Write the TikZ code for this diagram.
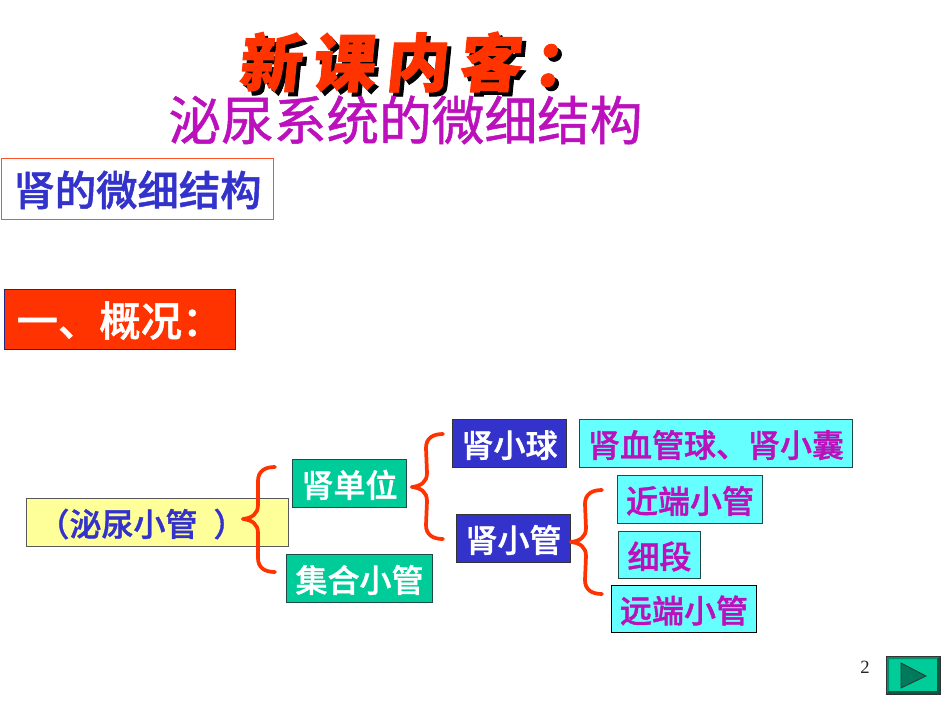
\documentclass[tikz,border=0pt]{standalone}
\usepackage{fontspec}
\usetikzlibrary{calc}
\newfontfamily\cjk{Noto Sans CJK SC}
\newfontfamily\cjkmed{Noto Sans CJK SC Medium}[FakeBold=1.2]
\newfontfamily\cjksub{Noto Sans CJK SC}[FakeBold=1]
\newfontfamily\cjkslant{Noto Sans CJK SC Black}[FakeSlant=0.1,FakeBold=1.5]
\setmainfont{Liberation Serif}
\definecolor{oxred}{HTML}{FF3300}
\definecolor{navy}{HTML}{3333CC}
\definecolor{mag}{HTML}{BB10BB}
\definecolor{teal}{HTML}{00CC99}
\definecolor{cyanbox}{HTML}{66FFFF}
\definecolor{yel}{HTML}{FFFF99}
\definecolor{edge}{HTML}{1F4A4A}
\tikzset{
  x=0.75pt,y=-0.75pt,
  box/.style={draw=edge,line width=0.8pt,inner sep=0pt,anchor=north west,align=center,text height=22.5pt,text depth=2pt,font=\cjkmed\fontsize{24pt}{26pt}\selectfont},
  headbox/.style={box,text height=28pt,text depth=3pt,font=\cjkmed\fontsize{31pt}{33pt}\selectfont},
  tealbox/.style={box,fill=teal,text=white},
  navybox/.style={box,fill=navy,text=white,draw=black!80},
  cyanb/.style={box,fill=cyanbox,text=mag},
  bracepath/.style={draw=oxred,line width=2.8pt,line cap=round,line join=round},
  wh/.style 2 args={minimum width=#1*0.75pt,minimum height=#2*0.75pt},
  titlechars/.style={font=\cjkslant\fontsize{47pt}{50pt}\selectfont,inner sep=0pt},
}
\newcommand{\titlerun}{新\hspace{8pt}课\hspace{8pt}内\hspace{8pt}客\hspace{8pt}：}
\newcommand{\bracedraw}[3]{% tip, top end, bottom end
  \draw[bracepath] (#1) .. controls ($(#1)+(9,-1)$) and ($(#1)+(15,-5)$) .. ($(#1)+(15,-14)$)
    -- ($(#2)+(-17,14)$) .. controls ($(#2)+(-17,4)$) and ($(#2)+(-10,0)$) .. (#2);
  \draw[bracepath] (#1) .. controls ($(#1)+(9,1)$) and ($(#1)+(15,5)$) .. ($(#1)+(15,14)$)
    -- ($(#3)+(-17,-14)$) .. controls ($(#3)+(-17,-4)$) and ($(#3)+(-10,0)$) .. (#3);
}
\begin{document}
\begin{tikzpicture}
\useasboundingbox (0,0) rectangle (950,713);
\fill[white] (0,0) rectangle (950,713);
% title
\node[titlechars,anchor=west] (title) at (238,64) {\rlap{\hspace{3pt}\raisebox{-3pt}{\color{black}\titlerun}}{\color{oxred}\titlerun}};
\node[inner sep=0pt,text=mag,font=\cjksub\fontsize{39.5pt}{42pt}\selectfont] (sub) at (405.5,120) {泌尿系统的微细结构};
% headings
\node[headbox,draw=oxred!85,fill=white,text=navy,wh={272}{61}] (h1) at (1,158) {肾的微细结构};
\node[headbox,draw=navy!70!black,fill=oxred,text=white,wh={231}{60}] (h2) at (4,289) {一、概况：};
% boxes
\node[box,fill=yel,text=navy,draw=black!65,wh={262}{48}] (a) at (26,498) {（泌尿小管\hspace{12pt}）\hspace{24pt}};
\node[tealbox,wh={114}{48}] (b) at (292,459) {肾单位};
\node[tealbox,wh={146}{48}] (c) at (286,554) {集合小管};
\node[navybox,wh={114}{48}] (d) at (452,419) {肾小球};
\node[cyanb,wh={273}{48}] (e) at (579,419) {肾血管球、肾小囊};
\node[navybox,wh={114}{48}] (f) at (456,514) {肾小管};
\node[cyanb,wh={145}{48}] (g) at (617,475) {近端小管};
\node[cyanb,wh={82}{47}] (h) at (618,531) {细段};
\node[cyanb,wh={145}{47},draw=black] (i) at (611,585) {远端小管};
% braces
\coordinate (t1) at (243,519); \coordinate (u1) at (275,467); \coordinate (l1) at (275,572);
\coordinate (t2) at (412,487); \coordinate (u2) at (443,434); \coordinate (l2) at (443,539);
\coordinate (t3) at (571,542); \coordinate (u3) at (602,490); \coordinate (l3) at (602,594);
\bracedraw{t1}{u1}{l1}
\bracedraw{t2}{u2}{l2}
\bracedraw{t3}{u3}{l3}
% page number + button
\node[inner sep=0pt,font=\fontsize{14pt}{16pt}\selectfont,text=black!85] (pg) at (865,667) {2};
\fill[teal] (886,656) rectangle (940,694);
\fill[teal!70!black] (886,656) -- (940,656) -- (937,659) -- (889,659) -- (889,691) -- (886,694) -- cycle;
\fill[teal!45!black] (940,656) -- (940,694) -- (886,694) -- (889,691) -- (937,691) -- (937,659) -- cycle;
\draw[black!80,line width=0.6pt] (886,656) rectangle (940,694);
\draw[black!80,fill=teal!60!black,line width=0.6pt] (901,663) -- (926,676) -- (901,688) -- cycle;
\end{tikzpicture}
\end{document}
